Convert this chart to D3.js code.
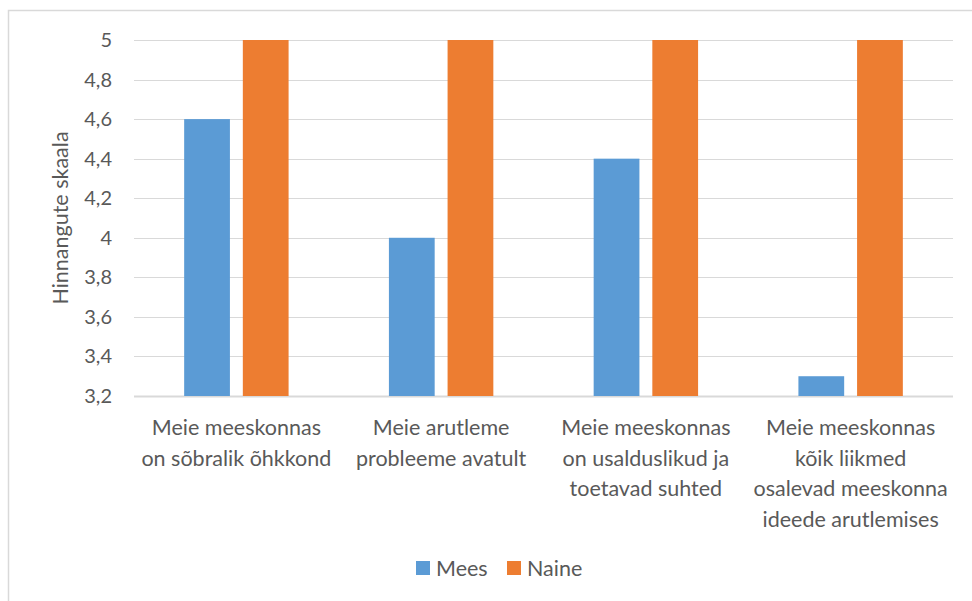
<!DOCTYPE html>
<html>
<head>
<meta charset="utf-8">
<script src="https://cdn.jsdelivr.net/npm/d3@7"></script>
<style>
  body { margin: 0; background: white; }
  text { font-family: Lato, "Open Sans", sans-serif; fill: #595959; }
</style>
</head>
<body>
<div id="chart"></div>
<script>
// Data
const categories = [
    ["Meie meeskonnas", "on sõbralik õhkkond"],
    ["Meie arutleme", "probleeme avatult"],
    ["Meie meeskonnas", "on usalduslikud ja", "toetavad suhted"],
    ["Meie meeskonnas", "kõik liikmed", "osalevad meeskonna", "ideede arutlemises"]
];
const seriesNames = ["Mees", "Naine"];
const meesValues = [4.6, 4.0, 4.4, 3.3];
const naineValues = [5, 5, 5, 5];
const yTicks = [3.2, 3.4, 3.6, 3.8, 4.0, 4.2, 4.4, 4.6, 4.8, 5.0];
const colors = ["#5b9bd5", "#ed7d31"];

const width = 972, height = 601;
const margin = { top: 40, bottom: 205, left: 134, right: 19 };

const svg = d3.select('#chart')
    .append('svg')
    .attr('width', width)
    .attr('height', height)
    .style('background', 'white');

// chart frame
svg.append('rect')
    .attr('x', 8.5)
    .attr('y', 10.5)
    .attr('width', 1000)
    .attr('height', 700)
    .attr('fill', 'none')
    .attr('stroke', '#d9d9d9')
    .attr('stroke-width', 1.5);

const catIdx = categories.map((d, i) => i);

const x0 = d3.scaleBand()
    .domain(catIdx)
    .range([margin.left, width - margin.right])
    .padding(0);

const bw = x0.bandwidth();
const x1 = d3.scaleBand()
    .domain(seriesNames)
    .range([bw * 0.245, bw * 0.755])
    .paddingInner(0.22);

const yScale = d3.scaleLinear()
    .domain([3.2, 5])
    .range([height - margin.bottom, margin.top]);

// gridlines
svg.append('g')
    .selectAll('line')
    .data(yTicks)
    .join('line')
    .attr('x1', margin.left)
    .attr('x2', width - margin.right)
    .attr('y1', d => Math.round(yScale(d)) + 0.5)
    .attr('y2', d => Math.round(yScale(d)) + 0.5)
    .attr('stroke', '#d9d9d9')
    .attr('stroke-width', d => d === 3.2 ? 2 : 1.2);

// y tick labels
const fmt = d => d3.format('~g')(d).replace('.', ',');
svg.append('g')
    .selectAll('text')
    .data(yTicks)
    .join('text')
    .attr('x', 112)
    .attr('y', d => yScale(d))
    .attr('dy', '0.35em')
    .attr('text-anchor', 'end')
    .style('font-size', '20px')
    .text(fmt);

// bars
const valuesBySeries = { "Mees": meesValues, "Naine": naineValues };
seriesNames.forEach((s, si) => {
    svg.append('g')
        .selectAll('rect')
        .data(valuesBySeries[s])
        .join('rect')
        .attr('x', (d, i) => x0(i) + x1(s))
        .attr('y', d => yScale(d))
        .attr('width', x1.bandwidth())
        .attr('height', d => yScale(3.2) - yScale(d))
        .attr('fill', colors[si]);
});

// x category labels
categories.forEach((lines, i) => {
    const t = svg.append('text')
        .attr('x', x0(i) + bw / 2)
        .attr('y', 435)
        .attr('text-anchor', 'middle')
        .style('font-size', '21.5px');
    lines.forEach((ln, j) => {
        t.append('tspan')
            .attr('x', x0(i) + bw / 2)
            .attr('dy', j === 0 ? 0 : 30.5)
            .text(ln);
    });
});

// y axis title
svg.append('text')
    .text('Hinnangute skaala')
    .attr('transform', `translate(68, ${(margin.top + height - margin.bottom) / 2}) rotate(-90)`)
    .attr('text-anchor', 'middle')
    .style('font-size', '21.5px');

// legend
const legendX = [416, 507];
seriesNames.forEach((s, si) => {
    svg.append('rect')
        .attr('x', legendX[si])
        .attr('y', 561)
        .attr('width', 14)
        .attr('height', 14)
        .attr('fill', colors[si]);
    svg.append('text')
        .attr('x', legendX[si] + 20)
        .attr('y', 576)
        .style('font-size', '21.5px')
        .text(s);
});
</script>
</body>
</html>
